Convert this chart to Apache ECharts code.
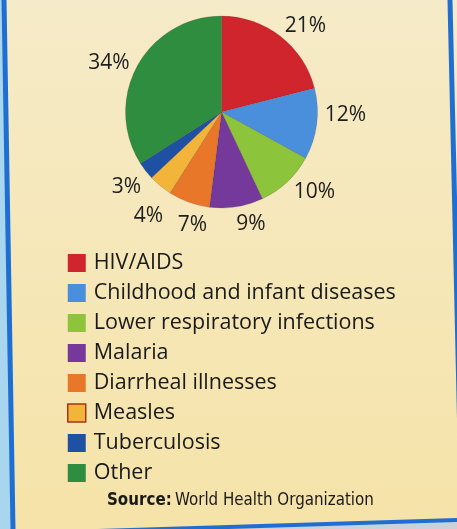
<!DOCTYPE html>
<html>
<head>
<meta charset="utf-8">
<style>
html,body{margin:0;padding:0;background:#f5e8c0;}
#chart{width:457px;height:529px;}
</style>
<script src="https://cdn.jsdelivr.net/npm/echarts@6/dist/echarts.min.js"></script>
</head>
<body>
<div id="chart"></div>
<script>
var categories = ['HIV/AIDS','Childhood and infant diseases','Lower respiratory infections','Malaria','Diarrheal illnesses','Measles','Tuberculosis','Other'];
var values = [21, 12, 10, 9, 7, 4, 3, 34];
var colors = ['#d0252c','#4a8fdc','#8cc43c','#74399b','#e8772a','#f2b53a','#1e50a4','#2f8d3f'];
var sourceLabel = 'Source:';
var sourceText = 'World Health Organization';
// small label nudges (px) to match the hand-placed labels
var labelNudge = [[8,12],[1,-13],[8,-10],[10,-10],[13,-4],[6,8],[3,-1],[-4,11]];

var chart = echarts.init(document.getElementById('chart'), null, {renderer:'canvas'});
var pieData = categories.map(function(n,i){ return {name:n, value:values[i], itemStyle:{color:colors[i]}}; });
var ringData = categories.map(function(n,i){ return {name:n, value:values[i]}; });
var legendData = categories.map(function(n,i){
  var o = {name:n, itemStyle:{color:colors[i], borderWidth:0}};
  if (n === 'Measles') { o.itemStyle.borderColor = '#a8321c'; o.itemStyle.borderWidth = 1.5; }
  return o;
});

chart.setOption({
  backgroundColor: {
    type:'linear', x:0, y:0, x2:0, y2:1,
    colorStops:[{offset:0,color:'#f6ebc8'},{offset:1,color:'#f5e3a8'}]
  },
  animation:false,
  graphic:[
    {type:'polygon', silent:true, shape:{points:[[0,0],[3,0],[11,529],[0,529]]}, style:{fill:'#a9d6ef'}},
    {type:'line', silent:true, shape:{x1:4,y1:0,x2:13,y2:529}, style:{stroke:'#1f6fd2',lineWidth:5}},
    {type:'line', silent:true, shape:{x1:450,y1:0,x2:462,y2:529}, style:{stroke:'#1f6fd2',lineWidth:5}},
    {type:'polygon', silent:true, shape:{points:[[0,536],[457,521],[457,529],[0,529]]}, style:{fill:'#c9d2da'}},
    {type:'line', silent:true, shape:{x1:0,y1:534,x2:457,y2:520}, style:{stroke:'#1f6fd2',lineWidth:4}},
    {type:'text', left:107, top:492, silent:true,
     style:{text:'{b|'+sourceLabel+'} {n|'+sourceText+'}',
       rich:{b:{fontFamily:'DejaVu Sans Condensed',fontWeight:'bold',fontSize:16.8,fill:'#1a1a1a'},
             n:{fontFamily:'DejaVu Sans Condensed',fontSize:16.8,fill:'#1a1a1a'}}}}
  ],
  legend:{
    orient:'vertical', left:62, top:247, padding:5,
    itemWidth:18, itemHeight:18, itemGap:8,
    icon:'rect',
    selectedMode:false,
    textStyle:{fontFamily:'Open Sans', fontSize:21.5, color:'#1a1a1a', lineHeight:20, padding:[0,0,0,3]},
    data:legendData
  },
  series:[
    {
      type:'pie', center:[221.5,112], radius:[0,96], startAngle:90, clockwise:true,
      silent:true, label:{show:false}, labelLine:{show:false},
      itemStyle:{borderColor:'rgba(70,40,40,0.35)', borderWidth:0.5},
      data:pieData
    },
    {
      type:'pie', center:[221.5,112], radius:[96,146], startAngle:90, clockwise:true,
      silent:true, legendHoverLink:false,
      itemStyle:{color:'rgba(0,0,0,0)', borderWidth:0},
      label:{show:true, position:'inside', formatter:'{c}%', fontFamily:'Open Sans', fontSize:21, color:'#1e1e1e'},
      labelLine:{show:false},
      labelLayout:function(p){ var d = labelNudge[p.dataIndex]; return {dx:d[0], dy:d[1]}; },
      data:ringData
    }
  ]
});
</script>
</body>
</html>
